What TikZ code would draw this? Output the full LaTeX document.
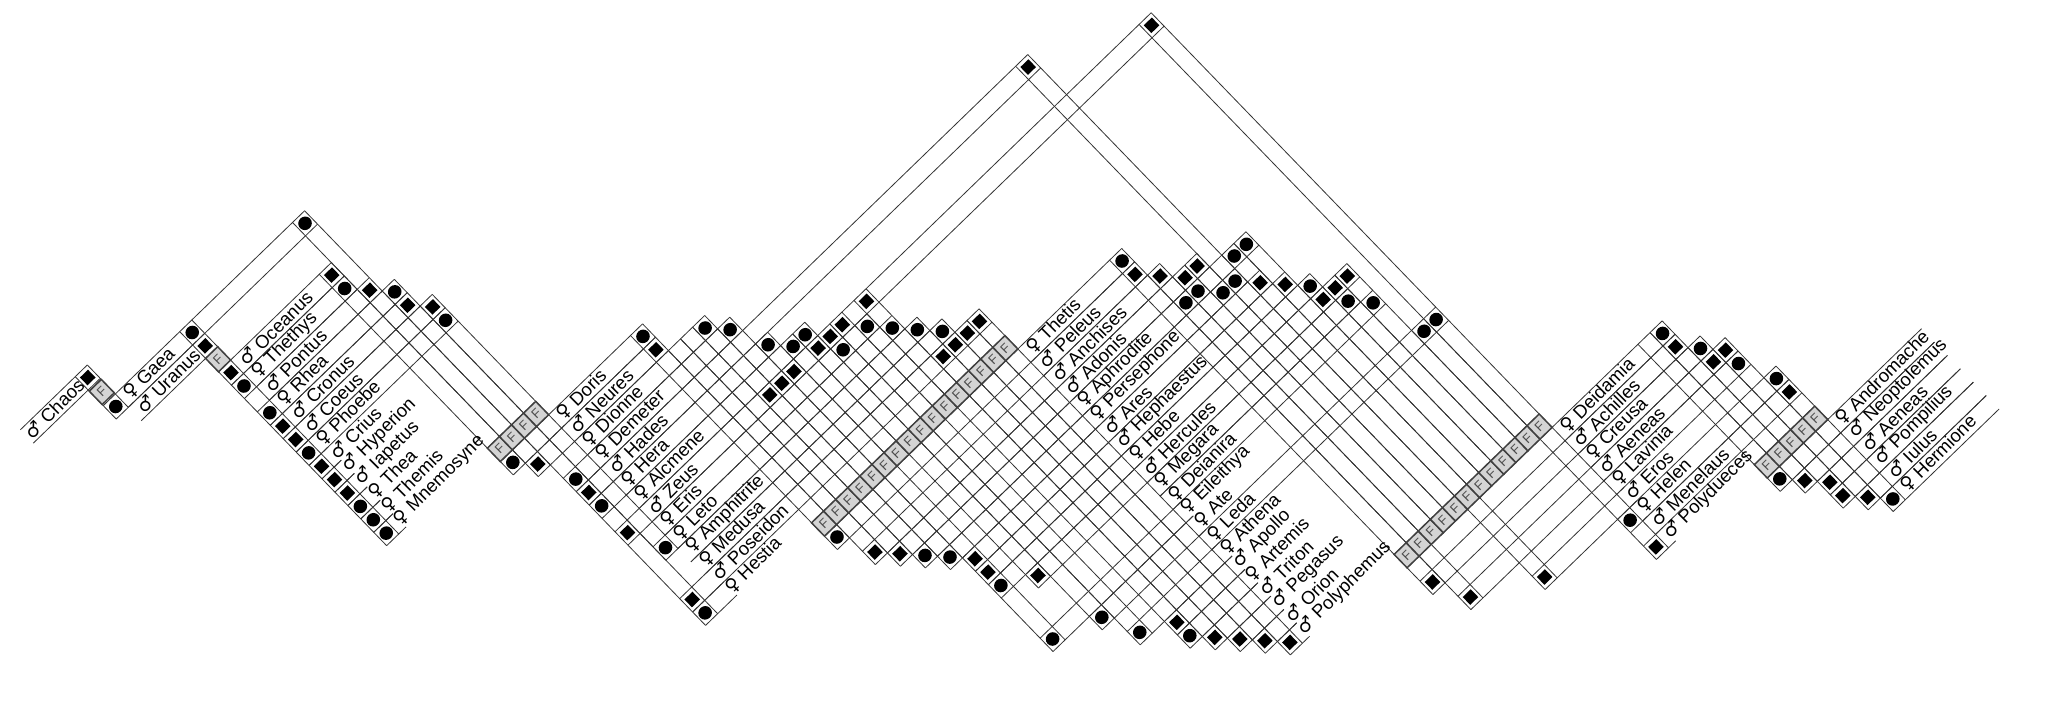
\documentclass[tikz,border=0pt]{standalone}
\usepackage{fontspec}
\setmainfont{Liberation Sans}
\newfontfamily\symf{DejaVu Sans}
\pgfmathdeclarefunction{ru}{1}{\pgfmathparse{(#1<1.5)*(466+29*#1)+(#1>1.5)*(524+26.75*(#1-2))}}
\newcommand\lfont{\fontsize{18.5}{20}\selectfont}
\newlength\labw
\tikzset{gl/.style={line width=0.8pt,draw=black!80},
 lab/.style={rotate=45,anchor=west,inner sep=0pt,font=\lfont},
 fbox/.style={fill=black!17,draw=black!75,line width=1.5pt},
 fl/.style={rotate=45,inner sep=0pt,font=\fontsize{13}{13}\selectfont,text=black!70}}
\newcommand\sexsym[1]{{\symf\if M#1♂\else ♀\fi}}
\newcommand\prow[6]{%
 \pgfmathsetmacro\rU{ru(#1)}%
 \pgfmathsetmacro\rUa{-(\rU-13.375)}%
 \pgfmathsetmacro\rUb{-(\rU+13.375)}%
 \node[lab] (p#1) at (#6,-\rU) {\sexsym{#2}\ #3};%
 \ifx L#5\settowidth\labw{\lfont\sexsym{#2}\ #3}%
 \pgfmathsetmacro\vE{#6+1.41421*\labw+5}%
 \draw[gl] (#4,\rUa) -- (\vE,\rUa) (#4,\rUb) -- (\vE,\rUb);%
 \else\draw[gl] (#4,\rUa) -- (#5,\rUa) (#4,\rUb) -- (#5,\rUb);\fi}
\begin{document}
\begin{tikzpicture}[x=1pt,y=1pt]
\fill[white] (0,0) rectangle (2060,-712);
\useasboundingbox (0,0) rectangle (2060,-712);
\begin{scope}[cm={1,0,0.033,1,(11.7,0)}]
\begin{scope}[rotate=45,x=0.70711pt,y=0.70711pt]
% family columns: v / top row / bottom row
\foreach \v/\t/\b in {-289/0/2,-141/2/17,
 54/5/19,77.4/2/20,100.8/8/32,124.2/10/28,
 306/19/34,329.4/21/36,352.8/21/37,376.2/21/38,399.6/22/39,423/24/46,446.4/25/33,469.8/25/43,
 493.2/26/47,516.6/26/49,540/27/33,563.4/26/51,586.8/29/52,610.2/30/53,633.6/31/54,657/31/55,
 858/34/58,881.4/36/60,904.8/37/56,928.2/37/56,951.6/23/56,975/38/62,998.4/38/56,1021.8/42/56,
 1045.2/43/56,1068.6/43/56,1092/48/56,1115.4/26/65,
 1305/57/67,1328.4/57/68,1351.8/59/70,1375.2/60/71,1398.6/63/72}{%
 \pgfmathsetmacro\cT{-(ru(\t)-13.375)}\pgfmathsetmacro\cB{-(ru(\b)+13.375)}%
 \draw[gl] ({\v-11.7},\cT) -- ({\v-11.7},\cB) ({\v+11.7},\cT) -- ({\v+11.7},\cB);}
% family rows
\foreach \r/\a/\b in {1/-300.7/-277.3,4/-152.7/-129.3,18/42.3/135.9,33/294.3/668.7,56/846.3/1127.1,66/1293.3/1410.3}{%
 \pgfmathsetmacro\fU{ru(\r)}%
 \draw[gl] (\a,{-(\fU-13.375)}) -- (\b,{-(\fU-13.375)}) (\a,{-(\fU+13.375)}) -- (\b,{-(\fU+13.375)});}
% person rows and labels
\prow{0}{M}{Chaos}{-407}{-277.3}{-405}
\prow{2}{F}{Gaea}{-300.7}{89.1}{-268.3}
\prow{3}{M}{Uranus}{-277.3}{-129.3}{-268.3}
\prow{5}{M}{Oceanus}{-152.7}{65.7}{-120.3}
\prow{6}{F}{Thethys}{-152.7}{65.7}{-120.3}
\prow{7}{M}{Pontus}{-129.3}{89.1}{-120.3}
\prow{8}{F}{Rhea}{-152.7}{112.5}{-120.3}
\prow{9}{M}{Cronus}{-152.7}{112.5}{-120.3}
\prow{10}{M}{Coeus}{-152.7}{135.9}{-120.3}
\prow{11}{F}{Phoebe}{-152.7}{135.9}{-120.3}
\prow{12}{M}{Crius}{-152.7}{L}{-120.3}
\prow{13}{M}{Hyperion}{-152.7}{L}{-120.3}
\prow{14}{M}{Iapetus}{-152.7}{L}{-120.3}
\prow{15}{F}{Thea}{-152.7}{L}{-120.3}
\prow{16}{F}{Themis}{-152.7}{L}{-120.3}
\prow{17}{F}{Mnemosyne}{-152.7}{L}{-120.3}
\prow{19}{F}{Doris}{42.3}{317.7}{144.9}
\prow{20}{M}{Neures}{65.7}{317.7}{144.9}
\prow{21}{F}{Dionne}{135.9}{387.9}{144.9}
\prow{22}{F}{Demeter}{89.1}{411.3}{144.9}
\prow{23}{M}{Hades}{89.1}{963.3}{144.9}
\prow{24}{F}{Hera}{89.1}{434.7}{144.9}
\prow{25}{F}{Alcmene}{135.9}{481.5}{144.9}
\prow{26}{M}{Zeus}{89.1}{1127.1}{144.9}
\prow{27}{F}{Eris}{135.9}{551.7}{144.9}
\prow{28}{F}{Leto}{112.5}{575.1}{144.9}
\prow{29}{F}{Amphitrite}{135.9}{598.5}{144.9}
\prow{30}{F}{Medusa}{135.9}{621.9}{144.9}
\prow{31}{M}{Poseidon}{89.1}{668.7}{144.9}
\prow{32}{F}{Hestia}{89.1}{L}{144.9}
\prow{34}{F}{Thetis}{294.3}{869.7}{677.7}
\prow{35}{M}{Peleus}{668.7}{869.7}{677.7}
\prow{36}{M}{Anchises}{317.7}{893.1}{677.7}
\prow{37}{M}{Adonis}{341.1}{939.9}{677.7}
\prow{38}{F}{Aphrodite}{364.5}{1010.1}{677.7}
\prow{39}{F}{Persephone}{387.9}{963.3}{677.7}
\prow{40}{M}{Ares}{411.3}{986.7}{677.7}
\prow{41}{M}{Hephaestus}{411.3}{1010.1}{677.7}
\prow{42}{F}{Hebe}{411.3}{1033.5}{677.7}
\prow{43}{M}{Hercules}{458.1}{1080.3}{677.7}
\prow{44}{F}{Megara}{668.7}{1056.9}{677.7}
\prow{45}{F}{Deianira}{668.7}{1080.3}{677.7}
\prow{46}{F}{Eileithya}{411.3}{L}{677.7}
\prow{47}{F}{Ate}{481.5}{L}{677.7}
\prow{48}{F}{Leda}{668.7}{1127.1}{677.7}
\prow{49}{F}{Athena}{504.9}{L}{677.7}
\prow{50}{M}{Apollo}{551.7}{L}{677.7}
\prow{51}{F}{Artemis}{551.7}{L}{677.7}
\prow{52}{M}{Triton}{575.1}{L}{677.7}
\prow{53}{M}{Pegasus}{598.5}{L}{677.7}
\prow{54}{M}{Orion}{621.9}{L}{677.7}
\prow{55}{M}{Polyphemus}{645.3}{L}{677.7}
\prow{57}{F}{Deidamia}{1127.1}{1340.1}{1136.1}
\prow{58}{M}{Achilles}{846.3}{1340.1}{1136.1}
\prow{59}{F}{Creusa}{1127.1}{1363.5}{1136.1}
\prow{60}{M}{Aeneas}{869.7}{1386.9}{1136.1}
\prow{61}{F}{Lavinia}{1127.1}{1386.9}{1136.1}
\prow{62}{M}{Eros}{963.3}{L}{1136.1}
\prow{63}{F}{Helen}{1103.7}{1410.3}{1136.1}
\prow{64}{M}{Menelaus}{1127.1}{1410.3}{1136.1}
\prow{65}{M}{Polydueces}{1103.7}{L}{1136.1}
\prow{67}{F}{Andromache}{1293.3}{1592}{1419.3}
\prow{68}{M}{Neoptolemus}{1316.7}{1592}{1419.3}
\prow{69}{M}{Aeneas}{1340.1}{1592}{1419.3}
\prow{70}{M}{Pompilius}{1340.1}{1592}{1419.3}
\prow{71}{M}{Iulus}{1363.5}{1592}{1419.3}
\prow{72}{F}{Hermione}{1386.9}{1592}{1419.3}
% family cells
\foreach \r/\v in {1/-289,4/-141,18/54,18/77.4,18/100.8,18/124.2,
 33/306,33/329.4,33/352.8,33/376.2,33/399.6,33/423,33/446.4,33/469.8,33/493.2,33/516.6,33/540,33/563.4,33/586.8,33/610.2,33/633.6,33/657,
 56/858,56/881.4,56/904.8,56/928.2,56/951.6,56/975,56/998.4,56/1021.8,56/1045.2,56/1068.6,56/1092,56/1115.4,
 66/1305,66/1328.4,66/1351.8,66/1375.2,66/1398.6}{%
 \pgfmathsetmacro\fU{ru(\r)}%
 \filldraw[fbox] ({\v-11.7},{-\fU+13.375}) rectangle ({\v+11.7},{-\fU-13.375});
 \node[fl] at (\v,-\fU) {F};}
% male cells
\foreach \r/\v in {0/-289,3/-141,5/-141,9/-141,10/-141,12/-141,13/-141,14/-141,
 5/54,7/77.4,20/77.4,9/100.8,23/100.8,26/100.8,31/100.8,10/124.2,
 20/306,36/329.4,37/352.8,26/376.2,26/399.6,26/423,40/423,41/423,26/469.8,43/469.8,26/493.2,26/516.6,26/563.4,50/563.4,31/586.8,52/586.8,31/610.2,53/610.2,31/633.6,54/633.6,31/657,55/657,
 35/858,58/858,36/881.4,60/881.4,37/904.8,37/928.2,23/951.6,40/975,62/975,41/998.4,43/1021.8,43/1045.2,43/1068.6,26/1115.4,65/1115.4,
 58/1328.4,68/1328.4,60/1351.8,69/1351.8,70/1351.8,60/1375.2,71/1375.2,64/1398.6}{%
 \pgfmathsetmacro\sU{-ru(\r)}%
 \fill (\v,\sU) +(-7.8,-7.8) rectangle +(7.8,7.8);}
% female cells
\foreach \r/\v in {2/-289,2/-141,6/-141,8/-141,11/-141,15/-141,16/-141,17/-141,
 6/54,19/54,2/77.4,8/100.8,22/100.8,24/100.8,32/100.8,11/124.2,28/124.2,
 19/306,34/306,21/376.2,38/376.2,22/399.6,39/399.6,24/423,42/423,46/423,25/446.4,25/469.8,27/493.2,47/493.2,49/516.6,27/540,28/563.4,51/563.4,29/586.8,30/610.2,
 34/858,38/881.4,38/904.8,39/928.2,39/951.6,38/975,38/998.4,42/1021.8,44/1045.2,45/1068.6,48/1092,48/1115.4,63/1115.4,
 67/1305,57/1328.4,59/1351.8,61/1375.2,63/1398.6,72/1398.6}{%
 \pgfmathsetmacro\sU{-ru(\r)}%
 \fill (\v,\sU) circle (9.6);}
\end{scope}
\end{scope}
\end{tikzpicture}
\end{document}
